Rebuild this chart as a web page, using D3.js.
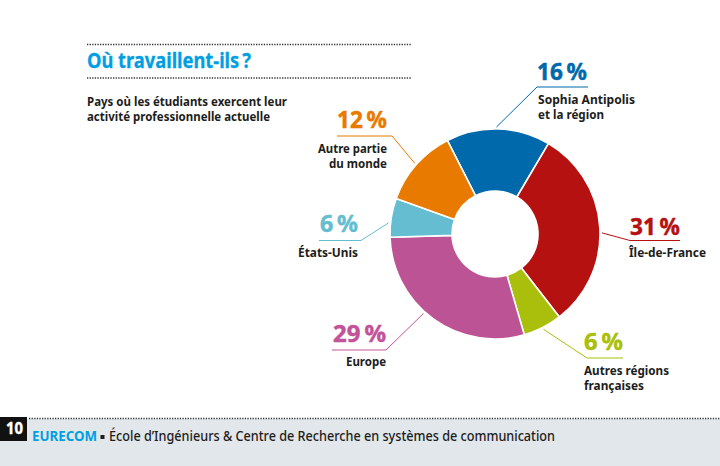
<!DOCTYPE html>
<html><head><meta charset="utf-8">
<script src="https://cdn.jsdelivr.net/npm/d3@7/dist/d3.min.js"></script>
<style>
html,body{margin:0;padding:0;background:#fff}
svg{display:block}
text{font-family:"Noto Sans","Open Sans",sans-serif;font-weight:700}
</style></head><body>
<svg id="c" width="720" height="466"></svg>
<script>
const categories=["Sophia Antipolis|et la région","Île-de-France","Autres régions|françaises","Europe","États-Unis","Autre partie|du monde"];
const values=[16,31,6,29,6,12];
const colors=["#0069ab","#b41110","#a9bf0c","#bc5394","#65bdd1","#e87a00"];
const labelColors=["#0069ab","#b41110","#a9bf0c","#c25299","#65bdd1","#e87a00"];
// layout: leader angle offset (deg), elbow, end, pct baseline, label baseline, anchor, text widths
const layout=[
 {off:-1,elbow:[537,87],end:[588,87],x:538,px:537,py:80,ly:104,a:"start",pw:50,lw:[97,66]},
 {off:3,elbow:[630,240.5],end:[680,240.5],x:629,px:630,py:235,ly:257,a:"start",pw:50,lw:[77]},
 {off:0,elbow:[587,358],end:[623,358],x:584,px:584,py:350,ly:375,a:"start",pw:39,lw:[85,60]},
 {off:6,elbow:[386,350],end:[332,350],x:386,px:386,py:342,ly:366,a:"end",pw:53,lw:[40]},
 {off:-3,elbow:[361,240.5],end:[319,240.5],x:358,px:358,py:232,ly:257,a:"end",pw:38,lw:[60]},
 {off:0,elbow:[392,136],end:[337,136],x:387,px:387,py:128,ly:153,a:"end",pw:50,lw:[69,58]}
];
const svg=d3.select("#c");
const cx=495,cy=234,R=105,r=43,start=-27*Math.PI/180;
const pie=d3.pie().sort(null).startAngle(start).endAngle(start+2*Math.PI).value(d=>d);
const arc=d3.arc().innerRadius(r).outerRadius(R);
const arcs=pie(values);
const g=svg.append("g").attr("transform",`translate(${cx},${cy})`);
g.selectAll("path").data(arcs).join("path").attr("d",arc)
 .attr("fill",(d,i)=>colors[i]).attr("stroke","#fff").attr("stroke-width",1.6);

const fit=(sel,w)=>sel.attr("textLength",w).attr("lengthAdjust","spacingAndGlyphs");

arcs.forEach((d,i)=>{
  const L=layout[i], ang=(d.startAngle+d.endAngle)/2+L.off*Math.PI/180;
  const p=[cx+(R+2)*Math.sin(ang),cy-(R+2)*Math.cos(ang)];
  svg.append("path").attr("d",d3.line()([p,L.elbow,L.end])).attr("fill","none")
    .attr("stroke",labelColors[i]).attr("stroke-width",1);
  fit(svg.append("text").attr("x",L.px).attr("y",L.py).attr("text-anchor",L.a)
    .attr("fill",labelColors[i]).attr("stroke",labelColors[i]).attr("stroke-width",0.5)
    .attr("font-size",24).text(values[i]+"\u2009%"),L.pw);
  categories[i].split("|").forEach((t,k)=>{
    fit(svg.append("text").attr("x",L.x).attr("y",L.ly+k*15).attr("text-anchor",L.a)
      .attr("fill","#1d1d1b").attr("font-size",12.5).text(t),L.lw[k]);
  });
});

// heading
const dots=(x1,x2,y,c)=>svg.append("line").attr("x1",x1).attr("x2",x2).attr("y1",y).attr("y2",y)
  .attr("stroke",c).attr("stroke-width",1.3).attr("stroke-dasharray","1.3 1.3");
dots(87,411,44.5,"#333");dots(87,411,78,"#333");
fit(svg.append("text").attr("x",87).attr("y",68).attr("fill","#009fe3").attr("stroke","#009fe3").attr("stroke-width",0.3)
  .attr("font-size",21).text("Où travaillent-ils\u2009?"),164);
fit(svg.append("text").attr("x",87).attr("y",106).attr("fill","#1d1d1b").attr("font-size",12.5).text("Pays où les étudiants exercent leur"),200);
fit(svg.append("text").attr("x",87).attr("y",121).attr("fill","#1d1d1b").attr("font-size",12.5).text("activité professionnelle actuelle"),183);

// footer
svg.append("rect").attr("x",0).attr("y",419).attr("width",720).attr("height",47).attr("fill","#e2e7eb");
svg.append("rect").attr("x",0).attr("y",417).attr("width",27).attr("height",24).attr("fill","#111");
dots(29,720,418.5,"#333");
fit(svg.append("text").attr("x",6).attr("y",434).attr("fill","#fff").attr("stroke","#fff").attr("stroke-width",0.4)
  .attr("font-size",16),17).text("10");
fit(svg.append("text").attr("x",32).attr("y",441).attr("font-size",14).attr("fill","#009fe3").text("EURECOM"),65);
svg.append("rect").attr("x",100.5).attr("y",435).attr("width",4).attr("height",4).attr("fill","#1d1d1b");
fit(svg.append("text").attr("x",109).attr("y",441).attr("font-size",14).attr("fill","#1d1d1b").style("font-weight",500)
  .text("École d’Ingénieurs & Centre de Recherche en systèmes de communication"),446);
</script></body></html>
